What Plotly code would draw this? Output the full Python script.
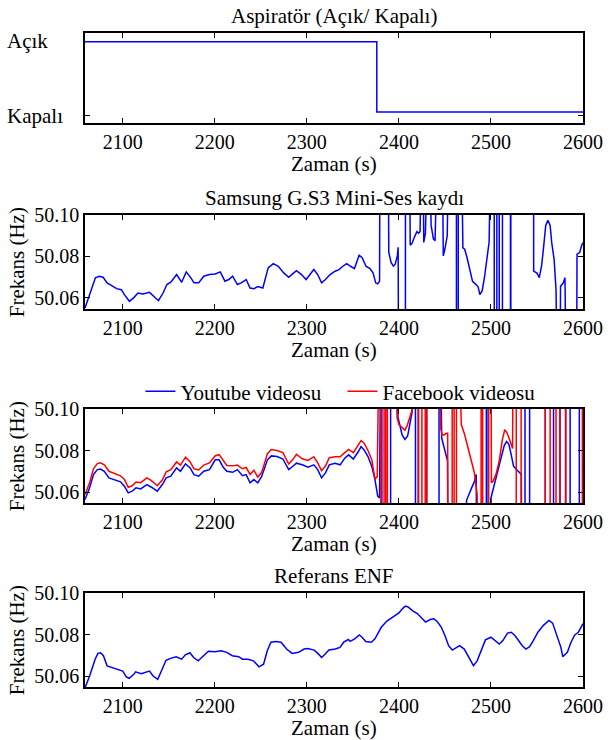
import plotly.graph_objects as go

# ---------------- data ----------------
aspirator_time = [2059, 2376, 2600]
aspirator_state = [1, 0, 0]          # 1 = Açık, 0 = Kapalı

enf = [(2059, 50.0543), (2064, 50.0600), (2070, 50.0681), (2073, 50.0709), (2076, 50.0712),
       (2079, 50.0698), (2083, 50.0649), (2089, 50.0641), (2095, 50.0634), (2100, 50.0624),
       (2104, 50.0595), (2107, 50.0589), (2112, 50.0608), (2114, 50.0620), (2120, 50.0611),
       (2125, 50.0620), (2129, 50.0624), (2133, 50.0600), (2138, 50.0584), (2142, 50.0624),
       (2147, 50.0676), (2152, 50.0685), (2158, 50.0693), (2164, 50.0681), (2168, 50.0702),
       (2173, 50.0712), (2177, 50.0689), (2182, 50.0673), (2188, 50.0698), (2193, 50.0719),
       (2200, 50.0717), (2207, 50.0722), (2213, 50.0714), (2219, 50.0698), (2226, 50.0693),
       (2230, 50.0681), (2236, 50.0681), (2242, 50.0673), (2248, 50.0644), (2253, 50.0657),
       (2257, 50.0722), (2261, 50.0763), (2266, 50.0766), (2272, 50.0763), (2278, 50.0730),
       (2284, 50.0709), (2291, 50.0714), (2297, 50.0730), (2301, 50.0733), (2308, 50.0725),
       (2312, 50.0709), (2316, 50.0689), (2320, 50.0706), (2324, 50.0725), (2331, 50.0730),
       (2336, 50.0738), (2340, 50.0763), (2345, 50.0776), (2347, 50.0767), (2352, 50.0779),
       (2357, 50.0798), (2360, 50.0787), (2364, 50.0766), (2370, 50.0763), (2374, 50.0779),
       (2377, 50.0803), (2381, 50.0836), (2387, 50.0865), (2394, 50.0885), (2400, 50.0904),
       (2404, 50.0925), (2407, 50.0937), (2410, 50.0933), (2415, 50.0914), (2420, 50.0901),
       (2425, 50.0876), (2429, 50.0860), (2434, 50.0872), (2438, 50.0876), (2442, 50.0860),
       (2446, 50.0836), (2450, 50.0795), (2454, 50.0746), (2458, 50.0725), (2462, 50.0735),
       (2466, 50.0746), (2471, 50.0730), (2475, 50.0698), (2481, 50.0650), (2485, 50.0673),
       (2489, 50.0722), (2494, 50.0774), (2500, 50.0787), (2504, 50.0771), (2509, 50.0754),
       (2513, 50.0771), (2518, 50.0807), (2522, 50.0811), (2526, 50.0795), (2530, 50.0771),
       (2534, 50.0746), (2538, 50.0730), (2542, 50.0741), (2546, 50.0771), (2551, 50.0811),
       (2557, 50.0844), (2563, 50.0868), (2567, 50.0855), (2571, 50.0803), (2576, 50.0738),
       (2578, 50.0693), (2583, 50.0714), (2587, 50.0763), (2591, 50.0798), (2595, 50.0811),
       (2600, 50.0852)]

# Samsung recording (values far outside the axis range are wrapped/invalid estimates)
samsung = [(2059, 50.0552), (2062, 50.0592), (2066.1, 50.0648), (2070.3, 50.0697), (2074.5, 50.0705),
           (2078.7, 50.0700), (2083, 50.0673), (2089.2, 50.0656), (2093.4, 50.0645), (2098.5, 50.0640),
           (2101.8, 50.0616), (2107.3, 50.0584), (2112.3, 50.0603), (2116.5, 50.0624), (2122, 50.0619),
           (2129.1, 50.0627), (2133.3, 50.0608), (2138.8, 50.0587), (2143.8, 50.0624), (2148, 50.0665),
           (2152.2, 50.0676), (2158.5, 50.0713), (2164, 50.0676), (2169, 50.0726), (2174, 50.0697),
           (2177.4, 50.0673), (2182.5, 50.0673), (2188, 50.0705), (2194.2, 50.0713), (2200.5, 50.0716),
           (2206, 50.0726), (2211, 50.0681), (2215.2, 50.0689), (2219.4, 50.0705), (2224.5, 50.0665),
           (2228.7, 50.0673), (2234.1, 50.0689), (2238.3, 50.0648), (2242.5, 50.0645), (2246.7, 50.0655),
           (2252.2, 50.0648), (2258, 50.0745), (2263.5, 50.0766), (2269, 50.0753), (2274.9, 50.0721),
           (2280.3, 50.0700), (2284.5, 50.0716), (2288.7, 50.0732), (2294.2, 50.0713), (2299.2, 50.0689),
           (2303.4, 50.0713), (2307.6, 50.0737), (2311.8, 50.0713), (2316, 50.0673), (2320.2, 50.0689),
           (2325.3, 50.0713), (2330.7, 50.0729), (2334.9, 50.0737), (2339.1, 50.0753), (2343.3, 50.0766),
           (2347.5, 50.0753), (2351.7, 50.0742), (2356.8, 50.0806), (2360.1, 50.0794), (2364.3, 50.0753),
           (2368.5, 50.0742), (2371.9, 50.0721), (2374.8, 50.0673), (2377, 50.0668), (2379, 50.0681),
           (2379.3, 50.12), (2388.6, 50.12), (2389, 50.0820), (2391.5, 50.0771), (2394, 50.0754),
           (2396, 50.0763), (2398.3, 50.0803), (2399.2, 50.0844), (2399.5, 50.04), (2407.1, 50.04),
           (2407.1, 50.12), (2411.8, 50.12), (2412.3, 50.0855), (2414.3, 50.0863), (2417.1, 50.0896),
           (2419.6, 50.0920), (2421.4, 50.0912), (2423, 50.0920), (2424, 50.12), (2426.5, 50.12),
           (2427, 50.0868), (2428.8, 50.0912), (2430.5, 50.12), (2434, 50.12), (2435, 50.0950),
           (2437.5, 50.0885), (2439.3, 50.0876), (2441, 50.12), (2447.5, 50.12), (2448.2, 50.0803),
           (2450, 50.0836), (2452.5, 50.0900), (2453.6, 50.12), (2462.5, 50.12), (2462.5, 50.04),
           (2464.5, 50.04), (2464.5, 50.12), (2468.5, 50.12), (2469.5, 50.0842), (2471.5, 50.0835),
           (2474, 50.0795), (2477, 50.0730), (2480, 50.0680), (2483, 50.0668), (2486, 50.0655),
           (2488, 50.0616), (2490.5, 50.0635), (2493, 50.0700), (2495.5, 50.0785), (2498, 50.0870),
           (2499.3, 50.12), (2503.6, 50.12), (2503.6, 50.04), (2506.4, 50.04), (2506.4, 50.12),
           (2509, 50.12), (2509, 50.04), (2512.5, 50.04), (2512.5, 50.12), (2521.2, 50.12),
           (2521.2, 50.04), (2521.6, 50.04), (2521.6, 50.12), (2546.4, 50.12), (2546.4, 50.0730),
           (2550, 50.0720), (2552.5, 50.0698), (2555, 50.0755), (2557, 50.0836), (2559.5, 50.0950),
           (2561.8, 50.0974), (2564.3, 50.0950), (2566, 50.0868), (2568.6, 50.0787), (2570.7, 50.0641),
           (2571.4, 50.04), (2575.3, 50.04), (2575.6, 50.0657), (2578.6, 50.0673), (2580.4, 50.0698),
           (2581.2, 50.04), (2593.2, 50.04), (2593.5, 50.0811), (2596.4, 50.0819), (2598.9, 50.0859),
           (2600.5, 50.0868)]

youtube = [(2059, 50.0564), (2064, 50.0620), (2068.2, 50.0684), (2072.4, 50.0708), (2075.8, 50.0711),
           (2080, 50.0700), (2085, 50.0668), (2091.3, 50.0660), (2097.6, 50.0649), (2101.8, 50.0628),
           (2106, 50.0596), (2110.2, 50.0604), (2114.4, 50.0620), (2119.5, 50.0615), (2126.2, 50.0636),
           (2131.2, 50.0623), (2137.5, 50.0604), (2143, 50.0636), (2147.2, 50.0668), (2152.2, 50.0676),
           (2158.5, 50.0716), (2162.7, 50.0700), (2168.2, 50.0736), (2173.2, 50.0716), (2177.4, 50.0684),
           (2182.5, 50.0676), (2188, 50.0700), (2194.2, 50.0708), (2200.5, 50.0755), (2204.7, 50.0755),
           (2209, 50.0720), (2213.1, 50.0700), (2219.4, 50.0695), (2224.5, 50.0708), (2230, 50.0679),
           (2234.1, 50.0684), (2238.3, 50.0644), (2242.5, 50.0660), (2246.7, 50.0644), (2251, 50.0676),
           (2257.2, 50.0755), (2261.4, 50.0774), (2267.7, 50.0771), (2274, 50.0759), (2280.3, 50.0708),
           (2284.5, 50.0723), (2288.7, 50.0739), (2295, 50.0731), (2301.3, 50.0720), (2307.6, 50.0731),
           (2311.8, 50.0708), (2316, 50.0668), (2320.2, 50.0692), (2324.4, 50.0731), (2330.7, 50.0739),
           (2336.2, 50.0731), (2341.2, 50.0763), (2345.4, 50.0779), (2350.5, 50.0759), (2356, 50.0795),
           (2358.9, 50.0819), (2362.2, 50.0803), (2366.4, 50.0771), (2370.6, 50.0723), (2374, 50.0660),
           (2377, 50.0580), (2379, 50.0572), (2380, 50.12), (2381.5, 50.12), (2381.5, 50.04),
           (2391, 50.04), (2391, 50.12), (2398, 50.12), (2399, 50.0960), (2401, 50.0915),
           (2403.5, 50.0875), (2406.5, 50.0853), (2409.5, 50.0870), (2412, 50.0930), (2414.5, 50.0990),
           (2416, 50.12), (2418, 50.12), (2418, 50.04), (2421, 50.04), (2421, 50.12),
           (2430, 50.12), (2430, 50.04), (2443.6, 50.04), (2443.6, 50.12), (2445.5, 50.12),
           (2446.5, 50.0860), (2448, 50.0835), (2450, 50.0800), (2451.5, 50.0770), (2452.8, 50.0750),
           (2453.2, 50.04), (2473.2, 50.04), (2473.5, 50.0560), (2476, 50.0590), (2479, 50.0620),
           (2482, 50.0650), (2484, 50.0685), (2484.3, 50.04), (2495, 50.04), (2495, 50.12),
           (2497, 50.12), (2497, 50.04), (2499.8, 50.04), (2500.2, 50.0575), (2503, 50.0625),
           (2507, 50.0690), (2511, 50.0760), (2514.5, 50.0825), (2517, 50.0843), (2519.5, 50.0830),
           (2522, 50.0780), (2524.5, 50.0725), (2527.5, 50.0710), (2531, 50.0695), (2533, 50.0685),
           (2533.3, 50.04), (2537, 50.04), (2537, 50.12), (2542, 50.12), (2542, 50.04),
           (2559, 50.04), (2559, 50.12), (2568, 50.12), (2568, 50.04), (2575, 50.04),
           (2575, 50.12), (2581, 50.12), (2581, 50.04), (2586, 50.04), (2586, 50.12),
           (2596, 50.12), (2596, 50.04), (2600.5, 50.04)]

facebook = [(2059, 50.0588), (2064, 50.0645), (2068.2, 50.0712), (2072.4, 50.0737), (2075.8, 50.0741),
            (2080, 50.0731), (2085, 50.0700), (2091.3, 50.0690), (2097.6, 50.0678), (2101.8, 50.0660),
            (2106, 50.0623), (2110.2, 50.0630), (2114.4, 50.0648), (2119.5, 50.0645), (2126.2, 50.0668),
            (2131.2, 50.0655), (2137.5, 50.0630), (2143, 50.0658), (2147.2, 50.0697), (2152.2, 50.0708),
            (2158.5, 50.0745), (2162.7, 50.0730), (2168.2, 50.0768), (2173.2, 50.0745), (2177.4, 50.0712),
            (2182.5, 50.0706), (2188, 50.0730), (2194.2, 50.0740), (2200.5, 50.0775), (2204.7, 50.0780),
            (2209, 50.0752), (2213.1, 50.0728), (2219.4, 50.0726), (2224.5, 50.0730), (2230, 50.0712),
            (2234.1, 50.0718), (2238.3, 50.0685), (2242.5, 50.0705), (2246.7, 50.0672), (2251, 50.0695),
            (2257.2, 50.0785), (2261.4, 50.0805), (2267.7, 50.0800), (2274, 50.0790), (2280.3, 50.0735),
            (2284.5, 50.0755), (2288.7, 50.0782), (2295, 50.0760), (2301.3, 50.0752), (2307.6, 50.0770),
            (2311.8, 50.0740), (2316, 50.0703), (2320.2, 50.0725), (2324.4, 50.0765), (2330.7, 50.0770),
            (2336.2, 50.0770), (2341.2, 50.0790), (2345.4, 50.0805), (2350.5, 50.0790), (2356, 50.0825),
            (2358.9, 50.0848), (2362.2, 50.0835), (2366.4, 50.0800), (2370.6, 50.0755), (2374, 50.0662),
            (2376.5, 50.0675), (2378, 50.12), (2380.4, 50.12), (2380.4, 50.04), (2383.9, 50.04),
            (2383.9, 50.12), (2385.7, 50.12), (2385.7, 50.04), (2387.5, 50.04), (2387.5, 50.12),
            (2397, 50.12), (2398, 50.0960), (2400, 50.0925), (2403.5, 50.0910), (2406.5, 50.0898),
            (2409, 50.0920), (2412.5, 50.0970), (2415, 50.1005), (2416, 50.12), (2421.4, 50.12),
            (2421.4, 50.04), (2425, 50.04), (2425, 50.12), (2428.6, 50.12), (2428.6, 50.04),
            (2430.4, 50.04), (2430.4, 50.12), (2444.6, 50.12), (2445.5, 50.0905), (2447, 50.0875),
            (2449, 50.0875), (2451.5, 50.0883), (2453, 50.0883), (2453.2, 50.04), (2457.9, 50.04),
            (2457.9, 50.12), (2460, 50.12), (2460, 50.04), (2462.5, 50.04), (2462.5, 50.12),
            (2466, 50.12), (2467.8, 50.0925), (2471.4, 50.0877), (2475, 50.0813), (2478.6, 50.0750),
            (2482, 50.0693), (2485, 50.0589), (2485.4, 50.04), (2489.3, 50.04), (2489.3, 50.12),
            (2491, 50.12), (2491, 50.04), (2497.5, 50.04), (2497.5, 50.12), (2500.2, 50.12),
            (2500.5, 50.0645), (2502, 50.0650), (2505.5, 50.0685), (2509, 50.0750), (2512.5, 50.0855),
            (2515, 50.0900), (2517.5, 50.0885), (2520, 50.0855), (2522.5, 50.0815), (2523.5, 50.0810),
            (2524, 50.12), (2527.5, 50.12), (2527.5, 50.04), (2532.8, 50.04), (2532.8, 50.12),
            (2559, 50.12), (2559, 50.04), (2564.3, 50.04), (2564.3, 50.12), (2570.7, 50.12),
            (2570.7, 50.04), (2575, 50.04), (2575, 50.12), (2581.4, 50.12), (2581.4, 50.04),
            (2599.3, 50.04), (2599.3, 50.12), (2600.5, 50.12)]

x_ticks = [2100, 2200, 2300, 2400, 2500, 2600]
freq_ticks = [50.06, 50.08, 50.10]
freq_tick_text = ["50.06", "50.08", "50.10"]
state_ticks = [-0.043, 1.12]
state_tick_text = ["Kapalı", "Açık"]

panel_titles = ["Aspiratör (Açık/ Kapalı)", "Samsung G.S3 Mini-Ses kaydı", None, "Referans ENF"]
x_title = "Zaman (s)"
y_title = "Frekans (Hz)"

# ---------------- figure ----------------
FONT = "Liberation Serif"
BLUE = "#0000FF"
RED = "#FF0000"

fig = go.Figure()

def xy(pairs):
    return [p[0] for p in pairs], [p[1] for p in pairs]

fig.add_trace(go.Scatter(x=aspirator_time, y=aspirator_state, mode="lines", line_shape="hv",
                         line=dict(color=BLUE, width=1.5), xaxis="x", yaxis="y", showlegend=False))
sx, sy = xy(samsung)
fig.add_trace(go.Scatter(x=sx, y=sy, mode="lines", line=dict(color=BLUE, width=1.5),
                         xaxis="x2", yaxis="y2", showlegend=False))
yx, yy = xy(youtube)
fig.add_trace(go.Scatter(x=yx, y=yy, mode="lines", line=dict(color=BLUE, width=1.5),
                         xaxis="x3", yaxis="y3", name="Youtube videosu"))
fx, fy = xy(facebook)
fig.add_trace(go.Scatter(x=fx, y=fy, mode="lines", line=dict(color=RED, width=1.5),
                         xaxis="x3", yaxis="y3", name="Facebook videosu"))
ex, ey = xy(enf)
fig.add_trace(go.Scatter(x=ex, y=ey, mode="lines", line=dict(color=BLUE, width=1.5),
                         xaxis="x4", yaxis="y4", showlegend=False))

domains = [(0.8624, 1.0), (0.578, 0.7217), (0.2813, 0.4251), (0.0, 0.1437)]
FREQ_RANGE = [50.0547, 50.1]
STATE_RANGE = [-0.156, 1.124]

common = dict(showline=True, linecolor="black", linewidth=1.5, mirror="ticks",
              ticks="inside", ticklen=5, tickwidth=1, tickcolor="black",
              showgrid=False, zeroline=False,
              tickfont=dict(family=FONT, size=20, color="black"))

layout = dict(
    width=615, height=740,
    margin=dict(l=85, r=23, t=33, b=53),
    paper_bgcolor="white", plot_bgcolor="white",
    font=dict(family=FONT, size=21, color="black"),
    legend=dict(orientation="h", x=0.517, xanchor="center", y=0.4515, yanchor="middle",
                font=dict(family=FONT, size=21), bgcolor="rgba(0,0,0,0)",
                itemwidth=30, entrywidth=157, entrywidthmode="pixels", tracegroupgap=0),
    showlegend=True,
)

annotations = []
for i, (d0, d1) in enumerate(domains, start=1):
    sfx = "" if i == 1 else str(i)
    xa = dict(common, domain=[0, 1], range=[2059, 2600], tickvals=x_ticks,
              anchor="y" + sfx)
    if i == 1:
        ya = dict(common, domain=[d0, d1], range=STATE_RANGE,
                  tickvals=state_ticks, showticklabels=False, anchor="x" + sfx)
    else:
        ya = dict(common, domain=[d0, d1], range=FREQ_RANGE,
                  tickvals=freq_ticks, ticktext=freq_tick_text, anchor="x" + sfx)
    layout["xaxis" + sfx] = xa
    layout["yaxis" + sfx] = ya
    annotations.append(dict(text=x_title, xref="paper", yref="paper", x=0.5, y=d0,
                            yshift=-41, xanchor="center", yanchor="middle", showarrow=False,
                            font=dict(family=FONT, size=21)))
    if i > 1:
        annotations.append(dict(text=y_title, xref="paper", yref="paper", x=-0.136,
                                y=(d0 + d1) / 2, textangle=-90, xanchor="center",
                                yanchor="middle", showarrow=False,
                                font=dict(family=FONT, size=21)))
    if panel_titles[i - 1]:
        annotations.append(dict(text=panel_titles[i - 1], xref="paper", yref="paper",
                                x=0.5, y=d1, yshift=17, xanchor="center", yanchor="middle",
                                showarrow=False, font=dict(family=FONT, size=21)))

# left-aligned state labels of the first panel (placed on the state axis)
for label, yv, shift in zip(state_tick_text, [0, 1], [-4, 1]):
    annotations.append(dict(text=label, xref="paper", yref="y", x=-0.16, y=yv, yshift=shift,
                            xanchor="left", yanchor="middle", showarrow=False,
                            font=dict(family=FONT, size=21)))

layout["annotations"] = annotations
fig.update_layout(**layout)
fig.write_html("out.html")
